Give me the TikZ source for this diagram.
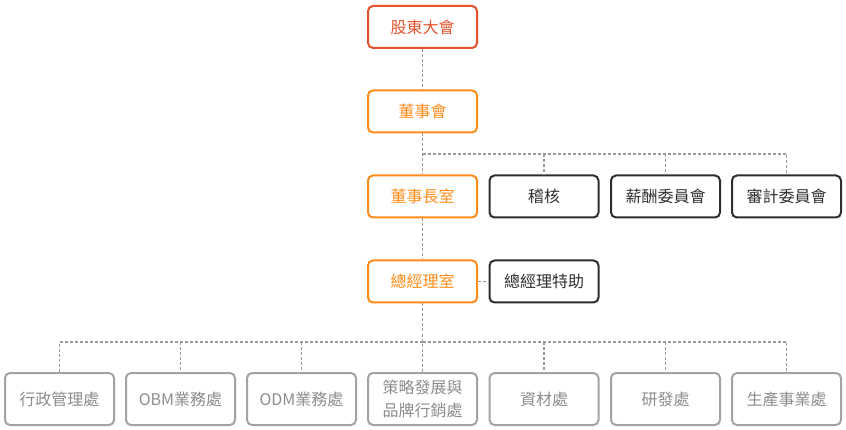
\documentclass[tikz,border=0pt]{standalone}
\usepackage{fontspec}
\setmainfont{Noto Sans CJK TC}
\definecolor{sharered}{HTML}{E4512B}
\definecolor{leadorange}{HTML}{FF8C1A}
\definecolor{staffblack}{HTML}{2E2E2E}
\definecolor{deptgray}{HTML}{A3A3A3}
\definecolor{depttext}{HTML}{8C8C8C}
\definecolor{linkgray}{HTML}{9A9A9A}

\begin{document}
\begin{tikzpicture}[x=1pt,y=-1pt,
  box/.style={draw,rounded corners=5pt,line width=2pt,inner sep=0pt,
    minimum width=109pt,minimum height=42pt,
    font=\fontsize{16}{23}\selectfont},
  headbox/.style={box,draw=sharered,text=sharered},
  leadbox/.style={box,draw=leadorange,text=leadorange},
  staffbox/.style={box,draw=staffblack,text=staffblack},
  deptbox/.style={box,draw=deptgray,text=depttext,minimum height=52pt,align=center},
  link/.style={linkgray,line width=1.2pt,dash pattern=on 3pt off 2pt}]
  \useasboundingbox (0,0) rectangle (846,430);

  %% Main line
  \node[headbox] (share) at (422.5,27)  {股東大會};
  \node[leadbox] (board) at (422.5,111.5) {董事會};
  \node[leadbox] (chair) at (422.5,196.5) {董事長室};
  \node[leadbox] (gm)    at (422.5,281.5) {總經理室};

  %% Staff units
  \node[staffbox] (audit) at (544,196.5)   {稽核};
  \node[staffbox] (pay)   at (665.5,196.5) {薪酬委員會};
  \node[staffbox] (acct)  at (786.5,196.5) {審計委員會};
  \node[staffbox] (aide)  at (544,281.5)   {總經理特助};

  %% Departments
  \node[deptbox] (admin) at (59.5,399)  {行政管理處};
  \node[deptbox] (obm)   at (180.5,399) {OBM業務處};
  \node[deptbox] (odm)   at (301.5,399) {ODM業務處};
  \node[deptbox] (brand) at (422.5,399) {策略發展與\\品牌行銷處};
  \node[deptbox] (supply) at (544,399)  {資材處};
  \node[deptbox] (rnd)   at (665.5,399) {研發處};
  \node[deptbox] (prod)  at (786.5,399) {生產事業處};

  %% Links
  \draw[link] (share) -- (board);
  \draw[link] (board) -- (chair);
  \draw[link] (chair) -- (gm);
  \draw[link] (gm) -- (aide);
  \coordinate (boardbus) at (422.5,154);
  \draw[link] (boardbus) -| (acct);
  \draw[link] (boardbus -| audit) -- (audit);
  \draw[link] (boardbus -| pay) -- (pay);

  \coordinate (deptbus) at (422.5,342);
  \draw[link] (gm) -- (brand);
  \draw[link] (deptbus) -| (admin);
  \draw[link] (deptbus) -| (prod);
  \draw[link] (deptbus -| obm) -- (obm);
  \draw[link] (deptbus -| odm) -- (odm);
  \draw[link] (deptbus -| supply) -- (supply);
  \draw[link] (deptbus -| rnd) -- (rnd);

\end{tikzpicture}
\end{document}
